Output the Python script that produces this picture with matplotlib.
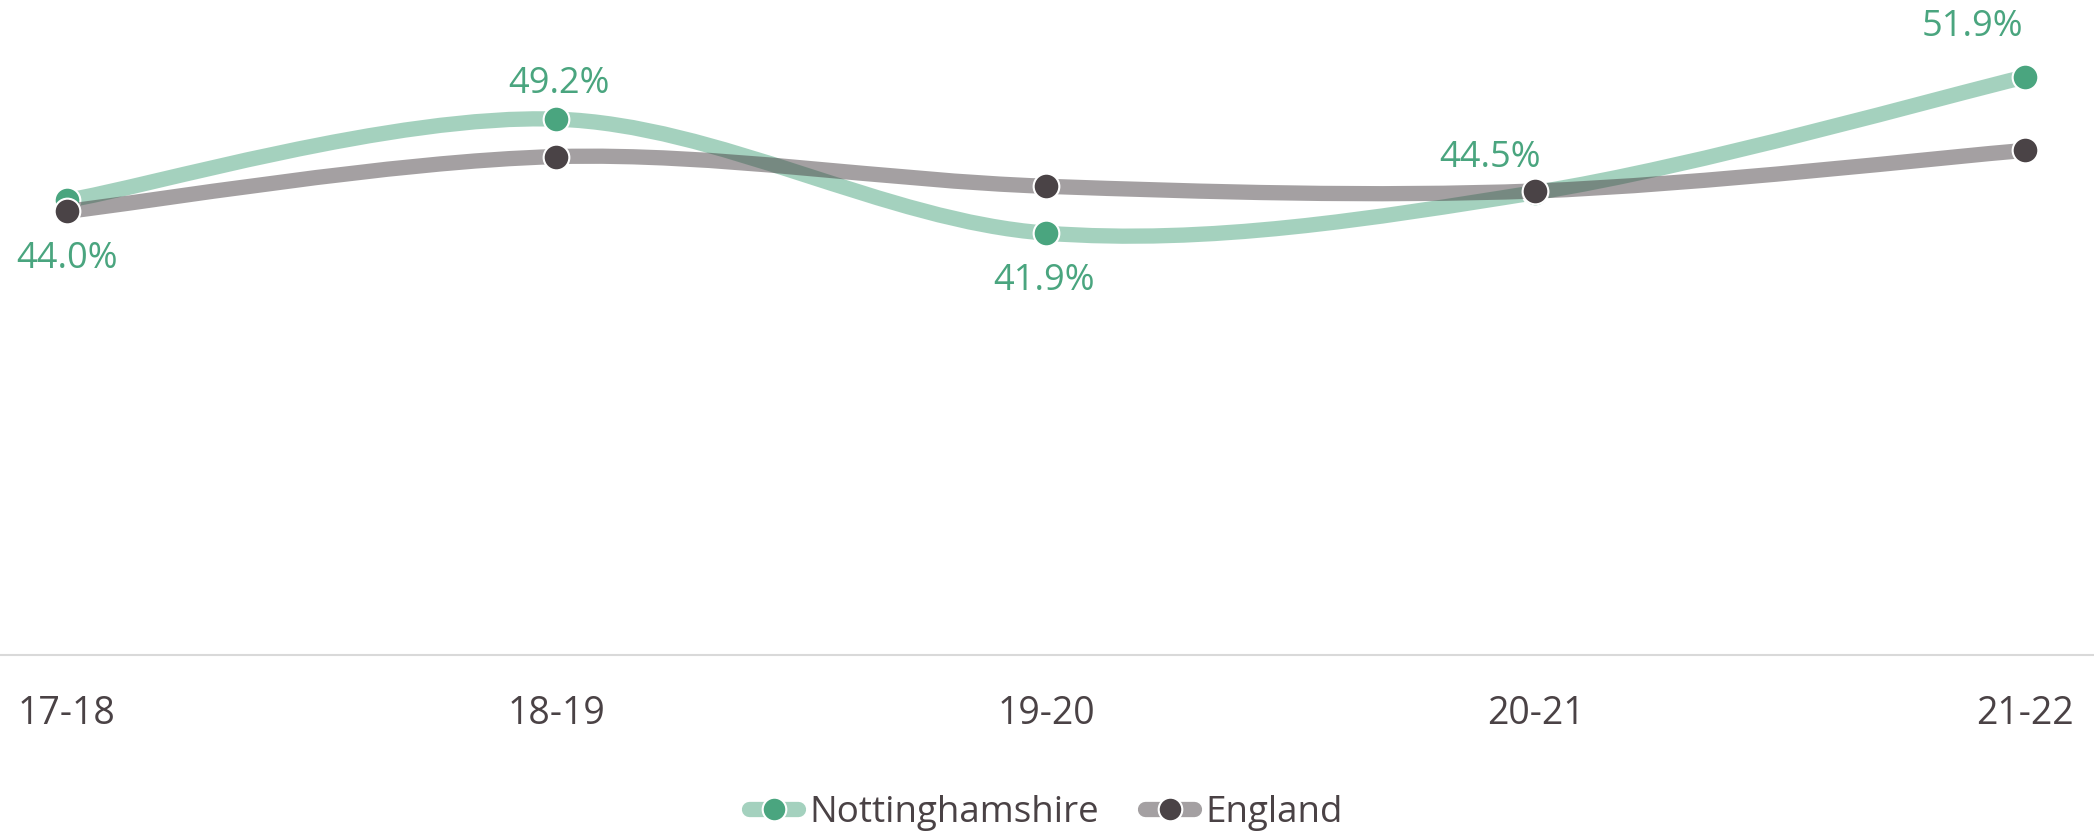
import numpy as np
import matplotlib
matplotlib.use("Agg")
import matplotlib.pyplot as plt
from matplotlib.path import Path
from matplotlib.patches import PathPatch
from matplotlib.lines import Line2D
from matplotlib.colors import to_rgba

# Data
years = ["17-18", "18-19", "19-20", "20-21", "21-22"]
nottinghamshire = [44.0, 49.2, 41.9, 44.5, 51.9]
england = [43.3, 46.8, 44.9, 44.6, 47.2]
series_names = ["Nottinghamshire", "England"]

GREEN = "#4aa57f"
DARK = "#4a4346"
TEXT = "#4a4245"
AXIS = "#d9d9d9"

plt.rcParams["font.family"] = ["Open Sans", "DejaVu Sans"]

W, H, DPI = 2094, 831, 100
fig = plt.figure(figsize=(W / DPI, H / DPI), dpi=DPI)
ax = fig.add_axes([0, 176 / H, 1, 655 / H])


def smooth_path(xs, ys):
    """Cardinal (Catmull-Rom) spline through the points as cubic Bezier segments."""
    pts = np.column_stack([xs, ys]).astype(float)
    n = len(pts)
    tang = np.empty_like(pts)
    for i in range(n):
        a = pts[max(i - 1, 0)]
        b = pts[min(i + 1, n - 1)]
        tang[i] = (b - a) / 2
    verts = [pts[0]]
    codes = [Path.MOVETO]
    for i in range(n - 1):
        verts += [pts[i] + tang[i] / 3, pts[i + 1] - tang[i + 1] / 3, pts[i + 1]]
        codes += [Path.CURVE4] * 3
    return Path(verts, codes)


x = np.arange(len(years))
for vals, col, z in [(nottinghamshire, GREEN, 2), (england, DARK, 3)]:
    ax.add_patch(PathPatch(smooth_path(x, vals), facecolor="none",
                           edgecolor=to_rgba(col, 0.5), lw=11,
                           capstyle="round", joinstyle="round", zorder=z))
    ax.plot(x, vals, ls="none", marker="o", ms=18.5, mfc=col, mec="white",
            mew=1.5, zorder=z + 0.5)

# Value labels for Nottinghamshire
label_offsets = [(0, -48.6), (1.4, 19.1), (-1.4, -40.7), (-32.4, 18.4), (-38.2, 29.2)]
for xi, v, off in zip(x, nottinghamshire, label_offsets):
    ax.annotate(f"{v:.1f}%", (xi, v), xytext=off, textcoords="offset points",
                ha="center", va="baseline", fontsize=26, color=GREEN, zorder=5)

unit = (2025 - 67) / 4
ax.set_xlim(-67 / unit, (W - 67) / unit)
ax.set_ylim(14.88, 56.83)
ax.set_xticks(x, years)
ax.tick_params(axis="x", length=0, pad=49.7, labelsize=27, labelcolor=TEXT)
for lab in ax.get_xticklabels():
    lab.set_va("baseline")
ax.set_yticks([])
for s in ["top", "left", "right"]:
    ax.spines[s].set_visible(False)
ax.spines["bottom"].set_color(AXIS)
ax.spines["bottom"].set_linewidth(1.5)
ax.patch.set_alpha(0)

handles = [Line2D([], [], color=to_rgba(c, 0.5), lw=11, solid_capstyle="round",
                  marker="o", ms=17, mfc=c, mec="white", mew=1.5)
           for c in (GREEN, DARK)]
fig.legend(handles, series_names, loc="center",
           bbox_to_anchor=(1046 / W, 1 - 813 / H), ncol=2, frameon=False,
           fontsize=26.5, labelcolor=TEXT, handlelength=1.33,
           handletextpad=0.3, columnspacing=1.27)

fig.savefig("out.png", dpi=DPI)
